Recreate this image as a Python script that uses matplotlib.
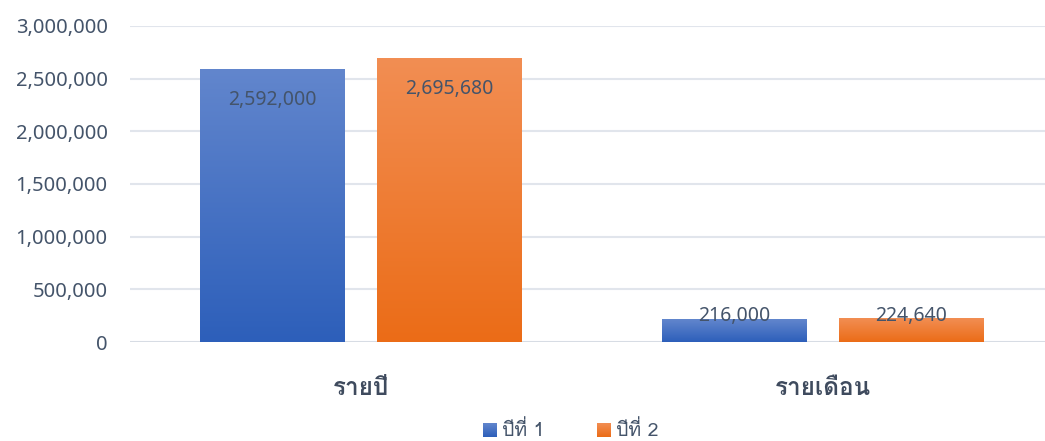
import matplotlib
matplotlib.use("Agg")
import numpy as np
import matplotlib.pyplot as plt
from matplotlib.colors import LinearSegmentedColormap
from matplotlib.ticker import FuncFormatter, MultipleLocator

plt.rcParams["font.family"] = ["Noto Sans", "DejaVu Sans"]
THAI = ["Loma", "Noto Sans Thai Looped", "DejaVu Sans"]

categories = ["รายปี", "รายเดือน"]
series_names = ["ปีที่ 1", "ปีที่ 2"]
year1 = [2592000, 216000]
year2 = [2695680, 224640]

TEXT = "#44546a"
GRID = "#e1e5ec"
# top / bottom colours of each bar gradient
BLUE = ("#6286cd", "#2d5fba")
ORANGE = ("#f28e53", "#eb6c17")

fig = plt.figure(figsize=(10.45, 4.41), dpi=100)
W, H = 1045, 441
ax = fig.add_axes([130 / W, 99 / H, 915 / W, 316 / H])

x = np.arange(len(categories))
width = 0.312
offset = (width + 0.071) / 2


def gradient_bars(xs, vals, cols):
    bars = ax.bar(xs, vals, width, color=cols[1], zorder=2)
    cmap = LinearSegmentedColormap.from_list("g", [cols[1], cols[0]])
    grad = np.linspace(0, 1, 256).reshape(-1, 1)
    for b in bars:
        x0, y0 = b.get_x(), b.get_y()
        w, h = b.get_width(), b.get_height()
        im = ax.imshow(grad, cmap=cmap, origin="lower", aspect="auto",
                       extent=(x0, x0 + w, y0, y0 + h), zorder=3)
        im.set_clip_path(b)
    return bars


b1 = gradient_bars(x - offset, year1, BLUE)
b2 = gradient_bars(x + offset, year2, ORANGE)

for bars in (b1, b2):
    for b in bars:
        v = b.get_height()
        # labels sit inside the bar top when there is room for them
        dy = -22 if v > 1000000 else 2
        ax.annotate(f"{v:,.0f}", (b.get_x() + b.get_width() / 2, v),
                    xytext=(0, dy), textcoords="offset points",
                    ha="center", va="center", fontsize=14, color=TEXT, zorder=4)

ax.set_xlim(-0.5, 1.4805)
ax.set_ylim(0, 3000000)
ax.yaxis.set_major_locator(MultipleLocator(500000))
ax.yaxis.set_major_formatter(FuncFormatter(lambda v, _: f"{v:,.0f}"))
ax.grid(axis="y", color=GRID, lw=1.5, zorder=0)
ax.axhline(0, color="#d6dbe4", lw=2, zorder=1)
ax.set_axisbelow(True)
for s in ax.spines.values():
    s.set_visible(False)
ax.tick_params(axis="y", length=0, pad=16, labelsize=14.5, labelcolor=TEXT)
ax.tick_params(axis="x", length=0, pad=25, labelsize=17.5, labelcolor="#3f4b5e")
ax.set_xticks(x)
ax.set_xticklabels(categories, fontweight="bold", family=THAI)

# legend with gradient swatches
ly = 11 / H
for (name, cols, lx) in zip(series_names, (BLUE, ORANGE), (483 / W, 597 / W)):
    sw = fig.add_axes([lx, ly - 7 / H, 14 / W, 14 / H])
    sw.imshow(np.linspace(0, 1, 64).reshape(-1, 1),
              cmap=LinearSegmentedColormap.from_list("s", [cols[0], cols[1]]),
              aspect="auto")
    sw.axis("off")
    fig.text(lx + 19 / W, ly, name, va="center", ha="left",
             fontsize=14, color=TEXT, family=THAI)

fig.savefig("out.png", dpi=100)
